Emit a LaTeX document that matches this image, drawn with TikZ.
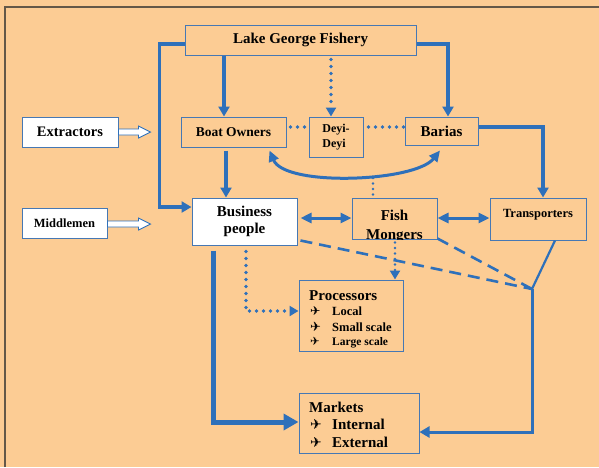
\documentclass[tikz,border=0pt]{standalone}
\usepackage{fontspec}
\setmainfont{Liberation Serif}
\newfontfamily\symfont{DejaVu Sans}
\usetikzlibrary{arrows.meta,calc}
\definecolor{bg}{RGB}{252,204,148}
\definecolor{ln}{RGB}{46,112,186}
\definecolor{bd}{RGB}{70,120,180}
\definecolor{fr}{RGB}{100,88,72}
\newcommand{\pl}[1]{\makebox[22pt][l]{{\symfont\fontsize{#1}{#1}\selectfont ✈}}}
\begin{document}
\begin{tikzpicture}[x=1pt,y=-1pt,
 box/.style={draw=bd, line width=1pt, fill=bg, inner sep=0pt, anchor=center},
 wbox/.style={box, fill=white},
 fs/.style={font={\bfseries\fontsize{#1}{#1}\selectfont}},
 conn/.style={draw=ln, line width=3.2pt},
 tip/.style={-{Triangle[length=10pt,width=11pt]}},
 dtip/.style={-{Triangle[length=9pt,width=10pt]}},
 both/.style={{Triangle[length=11pt,width=10pt]}-{Triangle[length=11pt,width=10pt]}},
 bigtip/.style={-{Triangle[length=15pt,width=16pt]}},
 dots/.style={draw=ln, line width=3.6pt, line cap=round, dash pattern=on 0pt off 7pt},
 fdots/.style={draw=ln, line width=2.8pt, line cap=round, dash pattern=on 0pt off 5.5pt},
 dashln/.style={draw=ln, line width=2.6pt, dash pattern=on 12pt off 7pt},
 hollow/.style={draw=ln, line width=0.9pt, fill=white},
 txt/.style={anchor=base west, inner sep=0pt}]
\fill[bg] (0,0) rectangle (599,467);
\useasboundingbox (0,0) rectangle (599,467);
\draw[fr, line width=1.5pt] (5,467) -- (5,7) -- (599,7);

% nodes
\node[box, minimum width=231pt, minimum height=30pt, fs=15] (lg) at (300.5,40) {Lake George Fishery};
\node[wbox, minimum width=96pt, minimum height=30pt, fs=14.5] (ex) at (70,132) {Extractors};
\node[wbox, minimum width=85pt, minimum height=30pt, fs=12.5] (mm) at (64.5,223) {Middlemen};
\node[box, minimum width=105pt, minimum height=30pt, fs=13.5] (bo) at (233.5,132) {Boat Owners};
\node[box, minimum width=54pt, minimum height=40pt, align=left, font={\bfseries\fontsize{12}{15}\selectfont}] (dd) at (336,137) {Deyi-\\Deyi};
\node[box, minimum width=73pt, minimum height=28pt, fs=15] (ba) at (441.5,131) {Barias};
\node[wbox, minimum width=105pt, minimum height=47pt, align=center, font={\bfseries\fontsize{15}{17}\selectfont}] (bp) at (244.5,221.5) {Business\\people};
\node[box, minimum width=85pt, minimum height=41pt] (fm) at (394.5,218.5) {};
\begin{scope}
\clip (fm.south west) rectangle (fm.north east);
\node[align=center, inner sep=0pt, font={\bfseries\fontsize{15}{19}\selectfont}] (fmt) at ($(fm.center)+(0,7.5)$) {Fish\\Mongers};
\end{scope}
\node[box, minimum width=96pt, minimum height=42pt, fs=12.5, inner ysep=6pt, text height=13pt, text depth=17pt] (tr) at (538,219) {Transporters};

\node[box, minimum width=104pt, minimum height=71pt] (pr) at (351,315.5) {};
\node[txt, fs=15] (prt) at (309,300) {Processors};
\node[txt, fs=12.5] (pr1) at (310,315) {\pl{12.5}Local};
\node[txt, fs=12.5] (pr2) at (310,331) {\pl{13}Small scale};
\node[txt, fs=11.5] (pr3) at (310,345) {\pl{11.5}Large scale};

\node[box, minimum width=120pt, minimum height=60pt] (mk) at (359,423) {};
\node[txt, fs=15] (mkt) at (309,412) {Markets};
\node[txt, fs=15] (mk1) at (310,429) {\pl{14}Internal};
\node[txt, fs=15] (mk2) at (310,447) {\pl{14}External};

% connectors
\draw[conn, tip] ($(lg.west)+(0,4)$) -- ++(-25,0) |- ($(bp.west)+(0,-14.5)$);
\draw[conn, tip] ($(lg.south)+(-76.5,0)$) -- ($(bo.north)+(-9.5,0)$);
\draw[dots, dtip] ($(lg.south)+(30.5,4)$) -- ($(dd.north)+(-5,0)$);
\draw[conn, tip] ($(lg.east)+(0,4)$) -| ($(ba.north)+(6.5,0)$);
\draw[conn, tip] ($(bo.south)+(-7.5,3)$) -- ($(bp.north)+(-18.5,0)$);
\draw[dots] ($(bo.east)+(4,-5)$) -- ($(dd.west)+(0,-10)$);
\draw[dots] ($(dd.east)+(5,-10)$) -- ($(ba.west)+(0,-4)$);
\draw[conn, tip] ($(ba.east)+(0,-4)$) -| ($(tr.north)+(5,0)$);
\draw[conn, line width=3pt, both] ($(bo.south)+(36,3)$) .. controls (285,187) and (415,182) .. ($(ba.south)+(-1.5,5)$);
\draw[fdots] ($(fm.north)+(-21.5,-3)$) -- ++(0,-19);
\draw[conn, line width=3pt, both] ($(bp.east)+(3,-3.5)$) -- ($(fm.west)+(0,-0.5)$);
\draw[conn, line width=3pt, both] ($(fm.east)+(0,-0.5)$) -- ($(tr.west)+(0,-1)$);

\coordinate (j) at (532,289);
\draw[dashln] ($(bp.south east)+(3,-5)$) -- (j);
\draw[dashln] ($(fm.south east)+(0,-1)$) -- (j);
\draw[conn, line width=2.2pt] ($(tr.south)+(17,0)$) -- (j);
\draw[conn, line width=3pt, tip] (j) |- ($(mk.east)+(0,9)$);

\draw[fdots, dtip] ($(fm.south)+(0.5,3)$) -- ($(pr.north)+(44,0)$);
\draw[dots, dtip] ($(bp.south)+(1.5,6)$) |- ($(pr.west)+(0,-4.5)$);
\draw[conn, line width=5pt, bigtip] ($(bp.south)+(-31.5,5)$) |- ($(mk.west)+(0,-1)$);

% hollow arrows
\draw[hollow] ($(ex.east)+(0,-3)$) -- ++(20,0) -- ++(0,-3) -- ++(12,6) -- ++(-12,6) -- ++(0,-3) -- ++(-20,0) -- cycle;
\draw[hollow] ($(mm.east)+(0,-2)$) -- ++(31,0) -- ++(0,-3) -- ++(12,6) -- ++(-12,6) -- ++(0,-3) -- ++(-31,0) -- cycle;
\end{tikzpicture}
\end{document}
